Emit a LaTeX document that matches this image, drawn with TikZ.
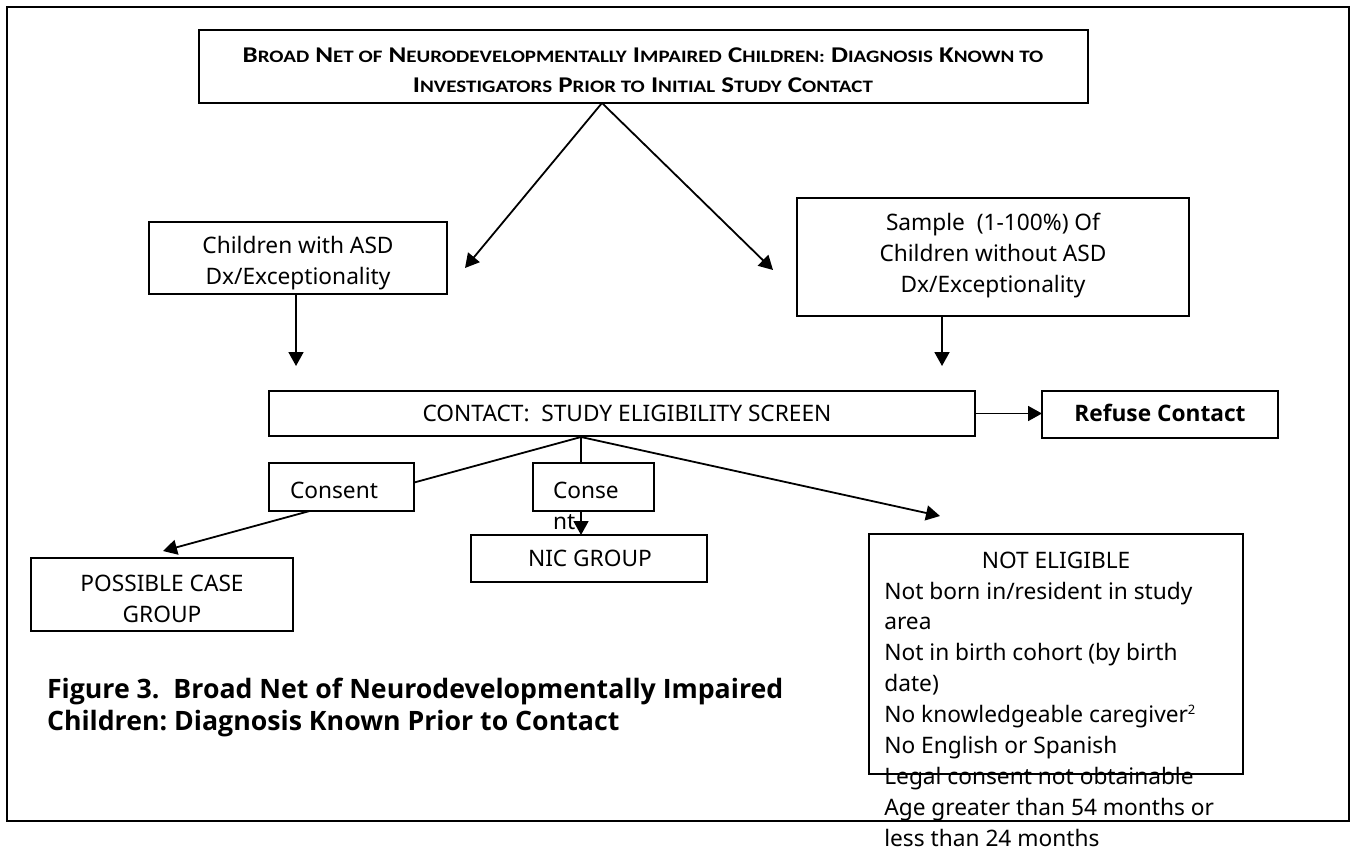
\documentclass[tikz,border=0pt]{standalone}
\usepackage{fontspec}
\setmainfont{Noto Sans}
\newfontfamily\calfont[FakeStretch=1.2]{Carlito}
\newfontfamily\osfont{Open Sans}
\usetikzlibrary{arrows.meta}
\frenchspacing
\tikzset{
  frame/.style={draw, line width=2.6pt, inner sep=0pt, outer sep=0pt},
  box/.style={draw, line width=1.8pt, inner sep=0pt, outer sep=0pt, fill=white, anchor=north west},
  txt/.style={inner sep=0pt, outer sep=0pt, anchor=base, font=\fontsize{22.7}{31}\selectfont},
  ltxt/.style={txt, anchor=base west},
  ttl/.style={inner sep=0pt, outer sep=0pt, anchor=base, font=\calfont\bfseries\fontsize{22.5}{30}\selectfont},
  captext/.style={inner sep=0pt, outer sep=0pt, anchor=base west, font=\osfont\bfseries\fontsize{26.7}{32}\selectfont},
  arr/.style={line width=1.8pt, -{Triangle[length=14pt,width=15pt]}},
}
\newcommand\tsc[2]{#1{\fontsize{17.5}{17.5}\selectfont #2}}
\newcommand\supnum[1]{\raisebox{8pt}{\fontsize{13}{13}\selectfont #1}}
\begin{document}
\begin{tikzpicture}[x=1pt,y=-1pt]
\useasboundingbox (0,0) rectangle (1354,854);
% outer frame
\node[frame, anchor=north west, minimum width=1342pt, minimum height=814pt] (frame) at (7,7) {};
% boxes
\node[box, minimum width=889pt, minimum height=73pt] (title) at (199,30) {};
\node[box, minimum width=298pt, minimum height=72pt] (asd) at (149,222) {};
\node[box, minimum width=392pt, minimum height=118pt] (sample) at (797,198) {};
\node[box, minimum width=706pt, minimum height=45pt] (contact) at (269,391) {};
\node[box, minimum width=236pt, minimum height=47pt] (refuse) at (1042,391) {};
\node[box, minimum width=236pt, minimum height=47pt] (nic) at (471,535) {};
\node[box, minimum width=262pt, minimum height=73pt] (pcg) at (31,558) {};
\node[box, minimum width=374pt, minimum height=240pt] (notel) at (869,534) {};
% connector coordinates
\coordinate (apex) at (602,103);
\coordinate (tipL) at (465,268);
\coordinate (tipR) at (773,270);
\coordinate (asdtip) at (296,366);
\coordinate (sampletip) at (942,366);
\coordinate (capex) at (581,437);
\coordinate (pcgtip) at (163,551);
\coordinate (netip) at (940,516);
% connectors
\draw[arr] (apex) -- (tipL);
\draw[arr] (apex) -- (tipR);
\draw[arr] (asdtip |- asd.south) -- (asdtip);
\draw[arr] (sampletip |- sample.south) -- (sampletip);
\draw[arr] (contact.east) -- (contact.east -| refuse.west);
\draw[arr] (capex) -- (pcgtip);
\draw[arr] (capex) -- (capex |- nic.north);
\draw[arr] (capex) -- (netip);
% consent label boxes over the connectors
\node[box, minimum width=145pt, minimum height=48pt] (consA) at (269,463) {};
\node[box, minimum width=121pt, minimum height=48pt] (consB) at (533,463) {};
% texts
\node[ttl] (t1) at (643,62) {\tsc{B}{ROAD} \tsc{N}{ET OF} \tsc{N}{EURODEVELOPMENTALLY} \tsc{I}{MPAIRED} \tsc{C}{HILDREN:} \tsc{D}{IAGNOSIS} \tsc{K}{NOWN TO}};
\node[ttl] (t2) at (643,92) {\tsc{I}{NVESTIGATORS} \tsc{P}{RIOR TO} \tsc{I}{NITIAL} \tsc{S}{TUDY} \tsc{C}{ONTACT}};
\node[txt] (a1) at (298,253) {Children with ASD};
\node[txt] (a2) at (298,284) {Dx/Exceptionality};
\node[txt] (s1) at (993,230.5) {Sample\ \ (1-100\%) Of};
\node[txt] (s2) at (993,261.5) {Children without ASD};
\node[txt] (s3) at (993,292.5) {Dx/Exceptionality};
\node[txt] (ct) at (627,421.7) {CONTACT:\ \ STUDY ELIGIBILITY SCREEN};
\node[txt, font=\osfont\bfseries\fontsize{22.7}{31}\selectfont] (rt) at (1160,421.7) {Refuse Contact};
\node[ltxt] (cA) at (290,498) {Consent};
\node[ltxt] (cB1) at (553,498) {Conse};
\node[ltxt] (cB2) at (553,529) {nt};
\node[ltxt] (nt) at (528,566) {NIC GROUP};
\node[txt] (p1) at (162,591) {POSSIBLE CASE};
\node[txt] (p2) at (162,622) {GROUP};
\node[txt] (n0) at (1056,568) {NOT ELIGIBLE};
\node[ltxt] (n1) at (884.3,599) {Not born in/resident in study};
\node[ltxt] (n2) at (884.3,629.9) {area};
\node[ltxt] (n3) at (884.3,660.8) {Not in birth cohort (by birth};
\node[ltxt] (n4) at (884.3,691.7) {date)};
\node[ltxt] (n5) at (884.3,722.6) {No knowledgeable caregiver\supnum{2}};
\node[ltxt] (n6) at (884.3,753.5) {No English or Spanish};
\node[ltxt] (n7) at (884.3,784.4) {Legal consent not obtainable};
\node[ltxt] (n8) at (884.3,815.3) {Age greater than 54 months or};
\node[ltxt] (n9) at (884.3,846.2) {less than 24 months};
\node[captext] (f1) at (47,698) {Figure 3.\ \ Broad Net of Neurodevelopmentally Impaired};
\node[captext] (f2) at (47,730) {Children: Diagnosis Known Prior to Contact};
\end{tikzpicture}
\end{document}
